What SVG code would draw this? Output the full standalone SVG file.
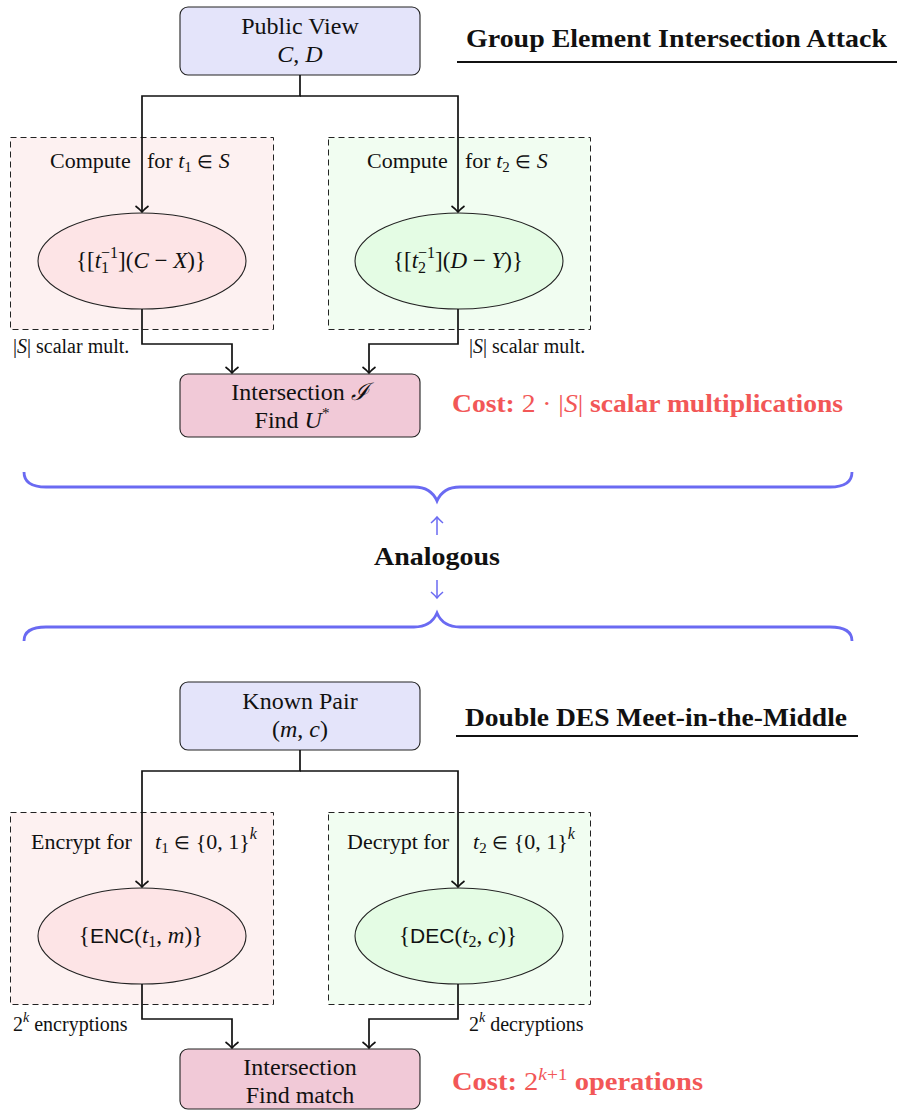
<svg xmlns="http://www.w3.org/2000/svg" width="897" height="1110" viewBox="0 0 897 1110">
<style>
.t{font-family:"Liberation Serif",serif;fill:#111;}
.b{font-weight:bold;}
.i{font-style:italic;}
.sf{font-family:"Liberation Sans",sans-serif;}
.el{font-size:18px;}
.box{stroke:#222;stroke-width:1.1;}
.dash{stroke:#222;stroke-width:1;stroke-dasharray:6 4;}
.ell{stroke:#222;stroke-width:1.1;}
.con{fill:none;stroke:#111;stroke-width:1.7;marker-end:url(#ah);}
.brace{fill:none;stroke:#6a6af2;stroke-width:2.8;}
.red{fill:#f25757;}
</style>
<defs>
<marker id="ah" markerUnits="userSpaceOnUse" viewBox="-10 -8 12 16" markerWidth="12" markerHeight="16" refX="0" refY="0" orient="auto">
<path d="M-6,-6.5 C-3,-2.5 -1,-0.8 0,0 C-1,0.8 -3,2.5 -6,6.5" fill="none" stroke="#111" stroke-width="1.6"/>
</marker>
<marker id="ahb" markerUnits="userSpaceOnUse" viewBox="-10 -8 12 16" markerWidth="12" markerHeight="16" refX="0" refY="0" orient="auto">
<path d="M-6,-6 C-3,-2.5 -1,-0.8 0,0 C-1,0.8 -3,2.5 -6,6" fill="none" stroke="#6a6af2" stroke-width="1.5"/>
</marker>
</defs>

<!-- ===== Top section ===== -->
<g id="title-top">
<text class="t b" x="466" y="47" font-size="25" textLength="421" lengthAdjust="spacingAndGlyphs">Group Element Intersection Attack</text>
<line x1="457" y1="62" x2="897" y2="62" stroke="#111" stroke-width="2"/>
</g>

<g id="n-public">
<rect class="box" x="180" y="7" width="240" height="68" rx="8" fill="#e4e4fa"/>
<text class="t" x="300" y="34" font-size="24" text-anchor="middle">Public View</text>
<text class="t" x="300" y="62" font-size="24" text-anchor="middle"><tspan class="i">C</tspan>, <tspan class="i">D</tspan></text>
</g>

<g id="n-compute-left">
<rect class="dash" x="10.5" y="137.5" width="263" height="192" fill="#fdf1f1"/>
<text class="t" x="50" y="168" font-size="22">Compute</text>
<text class="t" x="147" y="168" font-size="22">for <tspan class="i">t</tspan><tspan font-size="15" dy="4">1</tspan><tspan dy="-4"> <tspan class="el">∈</tspan> </tspan><tspan class="i">S</tspan></text>
</g>

<g id="n-compute-right">
<rect class="dash" x="328.5" y="137.5" width="262" height="192" fill="#f1fdf1"/>
<text class="t" x="367" y="168" font-size="22">Compute</text>
<text class="t" x="465" y="168" font-size="22">for <tspan class="i">t</tspan><tspan font-size="15" dy="4">2</tspan><tspan dy="-4"> <tspan class="el">∈</tspan> </tspan><tspan class="i">S</tspan></text>
</g>

<g id="n-ell-left">
<ellipse class="ell" cx="142" cy="261" rx="104" ry="48" fill="#fde4e6"/>
<text class="t" x="141" y="268" font-size="23" text-anchor="middle">{[<tspan class="i">t</tspan><tspan font-size="16" dy="5">1</tspan><tspan font-size="16" dx="-8" dy="-15">−1</tspan><tspan dy="10">](</tspan><tspan class="i">C</tspan> − <tspan class="i">X</tspan>)}</text>
</g>

<g id="n-ell-right">
<ellipse class="ell" cx="459" cy="261" rx="104" ry="48" fill="#e4fce4"/>
<text class="t" x="458" y="268" font-size="23" text-anchor="middle">{[<tspan class="i">t</tspan><tspan font-size="16" dy="5">2</tspan><tspan font-size="16" dx="-8" dy="-15">−1</tspan><tspan dy="10">](</tspan><tspan class="i">D</tspan> − <tspan class="i">Y</tspan>)}</text>
</g>

<g id="lbl-top">
<text class="t" x="13" y="353" font-size="20"><tspan>|</tspan><tspan class="i">S</tspan>| scalar mult.</text>
<text class="t" x="469" y="353" font-size="20"><tspan>|</tspan><tspan class="i">S</tspan>| scalar mult.</text>
</g>

<g id="n-intersect-top">
<rect class="box" x="180" y="374" width="240" height="63" rx="8" fill="#f1c9d7"/>
<text class="t" x="300" y="400" font-size="24" text-anchor="middle">Intersection <tspan font-family="'DejaVu Serif',serif" font-style="italic">ℐ</tspan></text>
<text class="t" x="292" y="428" font-size="24" text-anchor="middle">Find <tspan class="i">U</tspan><tspan font-size="15" dy="-10">*</tspan></text>
</g>

<g id="cost-top">
<text class="t red" x="452" y="412" font-size="25" textLength="391" lengthAdjust="spacingAndGlyphs"><tspan class="b">Cost:</tspan> 2 · |<tspan class="i">S</tspan>| <tspan class="b">scalar multiplications</tspan></text>
</g>

<!-- ===== Middle ===== -->
<g id="analogy">
<path class="brace" d="M24,472 Q24,487 46,487 L414,487 Q431,487 437,501 Q443,487 460,487 L830,487 Q852,487 852,472"/>
<line x1="437" y1="535" x2="437" y2="517" stroke="#6a6af2" stroke-width="1.5" marker-end="url(#ahb)"/>
<text class="t b" x="437" y="565" font-size="25" text-anchor="middle" textLength="126" lengthAdjust="spacingAndGlyphs">Analogous</text>
<line x1="437" y1="580" x2="437" y2="598" stroke="#6a6af2" stroke-width="1.5" marker-end="url(#ahb)"/>
<path class="brace" d="M24,641 Q24,627 46,627 L414,627 Q431,627 437,613 Q443,627 460,627 L830,627 Q852,627 852,641"/>
</g>

<!-- ===== Bottom section ===== -->
<g id="title-bottom">
<text class="t b" x="465" y="726" font-size="25" textLength="382" lengthAdjust="spacingAndGlyphs">Double DES Meet-in-the-Middle</text>
<line x1="456" y1="736" x2="858" y2="736" stroke="#111" stroke-width="2"/>
</g>

<g id="n-known">
<rect class="box" x="180" y="682" width="240" height="68" rx="8" fill="#e4e4fa"/>
<text class="t" x="300" y="709" font-size="24" text-anchor="middle">Known Pair</text>
<text class="t" x="300" y="737" font-size="24" text-anchor="middle">(<tspan class="i">m</tspan>, <tspan class="i">c</tspan>)</text>
</g>

<g id="n-encrypt">
<rect class="dash" x="10.5" y="812.5" width="263" height="192" fill="#fdf1f1"/>
<text class="t" x="31" y="849" font-size="22">Encrypt for</text>
<text class="t" x="155" y="849" font-size="22"><tspan class="i">t</tspan><tspan font-size="15" dy="4">1</tspan><tspan dy="-4"> <tspan class="el">∈</tspan> {0, 1}</tspan><tspan class="i" font-size="16" dy="-10">k</tspan></text>
</g>

<g id="n-decrypt">
<rect class="dash" x="328.5" y="812.5" width="262" height="192" fill="#f1fdf1"/>
<text class="t" x="347" y="849" font-size="22">Decrypt for</text>
<text class="t" x="473" y="849" font-size="22"><tspan class="i">t</tspan><tspan font-size="15" dy="4">2</tspan><tspan dy="-4"> <tspan class="el">∈</tspan> {0, 1}</tspan><tspan class="i" font-size="16" dy="-10">k</tspan></text>
</g>

<g id="n-ell-enc">
<ellipse class="ell" cx="142" cy="936" rx="104" ry="48" fill="#fde4e6"/>
<text class="t" x="141" y="943" font-size="23" text-anchor="middle">{<tspan class="sf" font-size="21">ENC</tspan>(<tspan class="i">t</tspan><tspan font-size="16" dy="4">1</tspan><tspan dy="-4">, </tspan><tspan class="i">m</tspan>)}</text>
</g>

<g id="n-ell-dec">
<ellipse class="ell" cx="459" cy="936" rx="104" ry="48" fill="#e4fce4"/>
<text class="t" x="458" y="943" font-size="23" text-anchor="middle">{<tspan class="sf" font-size="21">DEC</tspan>(<tspan class="i">t</tspan><tspan font-size="16" dy="4">2</tspan><tspan dy="-4">, </tspan><tspan class="i">c</tspan>)}</text>
</g>

<g id="lbl-bottom">
<text class="t" x="13" y="1031" font-size="20">2<tspan class="i" font-size="14" dy="-9">k</tspan><tspan dy="9"> encryptions</tspan></text>
<text class="t" x="469" y="1031" font-size="20">2<tspan class="i" font-size="14" dy="-9">k</tspan><tspan dy="9"> decryptions</tspan></text>
</g>

<g id="n-intersect-bottom">
<rect class="box" x="180" y="1049" width="240" height="60" rx="8" fill="#f1c9d7"/>
<text class="t" x="300" y="1075" font-size="24" text-anchor="middle">Intersection</text>
<text class="t" x="300" y="1103" font-size="24" text-anchor="middle">Find match</text>
</g>

<g id="cost-bottom">
<text class="t red" x="452" y="1090" font-size="25" textLength="251" lengthAdjust="spacingAndGlyphs"><tspan class="b">Cost:</tspan> 2<tspan font-size="17" dy="-10"><tspan class="i">k</tspan>+1</tspan><tspan dy="10"> </tspan><tspan class="b">operations</tspan></text>
</g>

<!-- ===== Connectors ===== -->
<g id="connectors">
<path class="con" d="M300,75 V96 H142 V212"/>
<path class="con" d="M300,96 H458 V212"/>
<path class="con" d="M142,309 V344 H232 V373"/>
<path class="con" d="M458,309 V344 H369 V373"/>
<path class="con" d="M300,750 V771 H142 V887"/>
<path class="con" d="M300,771 H458 V887"/>
<path class="con" d="M142,984 V1019 H232 V1048"/>
<path class="con" d="M458,984 V1019 H369 V1048"/>
</g>
</svg>
